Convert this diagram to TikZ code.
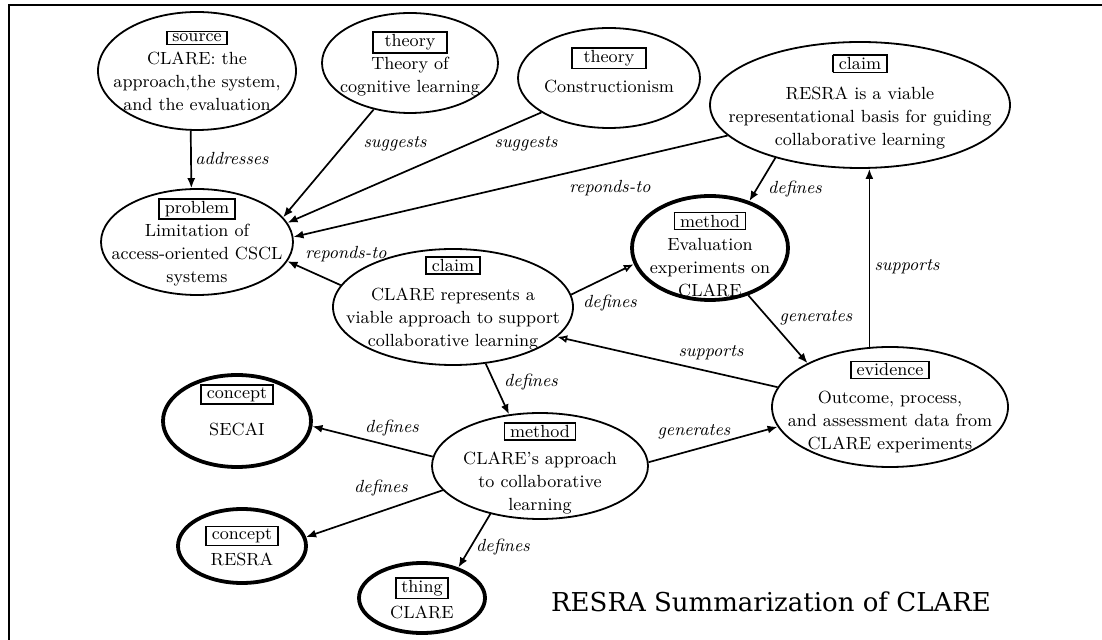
\documentclass[tikz,border=0pt]{standalone}
\usepackage{fontspec}
\newfontfamily\titlefont{DejaVu Serif}
\usepackage{tikz}
\usetikzlibrary{arrows.meta,shapes.geometric}
\newcommand{\kind}[1]{{\setlength{\fboxsep}{0.8pt}\setlength{\fboxrule}{0.8pt}\fbox{\hspace{1.6pt}#1\hspace{1.6pt}}}}

\begin{document}
\begin{tikzpicture}[
    x=0.5pt, y=-0.5pt,
    bubble/.style 2 args={ellipse, draw, line width=0.9pt, minimum width=#1pt, minimum height=#2pt, inner sep=0pt},
    boldbubble/.style 2 args={bubble={#1}{#2}, line width=1.9pt},
    bubbletext/.style={align=center, font=\fontsize{8.8}{11.5}\selectfont, inner sep=0pt},
    link/.style={draw, line width=0.85pt, -{Latex[length=5pt,width=4pt]}},
    openlink/.style={link, -{Latex[open,length=5pt,width=4pt]}},
    rel/.style={font=\fontsize{8.8}{10.5}\selectfont\itshape, inner sep=1pt}
]
    \useasboundingbox (0,0) rectangle (1102,640);

    % cornice
    \draw[line width=1pt] (8.5,640) -- (8.5,5) -- (1102,5);

    % ellissi (fonti, teorie, affermazioni)
    \node[bubble={99}{59}]  (src)    at (197,71)  {};
    \node[bubble={88}{50}]  (th1)    at (410,63)  {};
    \node[bubble={91}{50}]  (th2)    at (609,78)  {};
    \node[bubble={150}{63}] (rclaim) at (860,105) {};
    \node[bubble={96}{53}]  (prob)   at (197,242) {};
    \node[bubble={120}{58}] (cclaim) at (453,307) {};
    \node[bubble={118}{60}] (evid)   at (890,407) {};
    \node[bubble={108}{53}] (appr)   at (540,466) {};

    % ellissi spesse (metodi, concetti, cose)
    \node[boldbubble={78}{52}] (eval)   at (710,248) {};
    \node[boldbubble={74}{46}] (secai)  at (237,421) {};
    \node[boldbubble={64}{37}] (cresra) at (242,546) {};
    \node[boldbubble={63}{35}] (thing)  at (422,598) {};

    % testi
    \node[bubbletext] (srcT)    at (src) {\kind{source}\\CLARE: the\\approach,the system,\\and the evaluation};
    \node[bubbletext] (th1T)    at ([yshift=-0.5pt]th1) {\kind{\ theory\ }\\Theory of\\cognitive learning};
    \node[bubbletext] (th2T)    at ([yshift=4pt]th2) {\kind{\ theory\ }\\[3.5pt]Constructionism};
    \node[bubbletext] (rclaimT) at ([yshift=1.5pt]rclaim) {\kind{claim}\\[3.5pt]RESRA is a viable\\representational basis for guiding\\collaborative learning};
    \node[bubbletext] (probT)   at (prob) {\kind{problem}\\Limitation of\\access-oriented CSCL\\systems};
    \node[bubbletext] (cclaimT) at ([yshift=2pt]cclaim) {\kind{claim}\\[3pt]CLARE represents a\\viable approach to support\\collaborative learning};
    \node[bubbletext] (evidT)   at (evid) {\kind{evidence}\\[2.5pt]Outcome, process,\\and assessment data from\\CLARE experiments};
    \node[bubbletext] (apprT)   at ([yshift=-1pt]appr) {\kind{method}\\[2pt]CLARE's approach\\to collaborative\\learning};
    \node[bubbletext] (evalT)   at ([yshift=-3pt]eval) {\kind{method}\\Evaluation\\experiments on\\CLARE};
    \node[bubbletext] (secaiT)  at ([yshift=5.5pt]secai) {\kind{concept}\\[7pt]SECAI};
    \node[bubbletext] (cresraT) at (cresra) {\kind{concept}\\[1.5pt]RESRA};
    \node[bubbletext] (thingT)  at (thing) {\kind{thing}\\[1.5pt]CLARE};

    % relazioni
    \draw[link] (src.264) -- (prob.96);
    \draw[link] (th1.232) -- (prob.16);
    \draw[link] (th2.207) -- (prob.12);
    \draw[link] (rclaim.193) -- (prob.3);
    \draw[link] (cclaim.169) -- (prob.348);
    \draw[link] (rclaim.212) -- (eval.50);
    \draw[openlink] (cclaim.6) -- (eval.192);
    \draw[link] (eval.309) -- (evid.152);
    \draw[link] (evid.109) -- (evid.109 |- rclaim.south);
    \draw[openlink] (evid.170) -- (cclaim.344);
    \draw[link] (cclaim.300) -- (appr.121);
    \draw[link] (appr.175) -- (secai.356);
    \draw[link] (appr.194) -- (cresra.8);
    \draw[link] (appr.224) -- (thing.40);
    \draw[link] (appr.2) -- (evid.190);

    % etichette delle relazioni
    \node[rel] (lAddr)  at (232,158) {addresses};
    \node[rel] (lSug1)  at (395,144) {suggests};
    \node[rel] (lSug2)  at (526,144) {suggests};
    \node[rel] (lResp1) at (610,188) {reponds-to};
    \node[rel] (lResp2) at (346,254) {reponds-to};
    \node[rel] (lDef1)  at (795,189) {defines};
    \node[rel] (lDef2)  at (610,303) {defines};
    \node[rel] (lGen1)  at (816,318) {generates};
    \node[rel] (lSup1)  at (907,267) {supports};
    \node[rel] (lSup2)  at (711,353) {supports};
    \node[rel] (lDef3)  at (531,382) {defines};
    \node[rel] (lDef4)  at (392,428) {defines};
    \node[rel] (lDef5)  at (381,488) {defines};
    \node[rel] (lDef6)  at (503,547) {defines};
    \node[rel] (lGen2)  at (694,432) {generates};

    % titolo
    \node[font=\titlefont\fontsize{13}{15}\selectfont] (title) at (771,602) {RESRA Summarization of CLARE};
\end{tikzpicture}
\end{document}
